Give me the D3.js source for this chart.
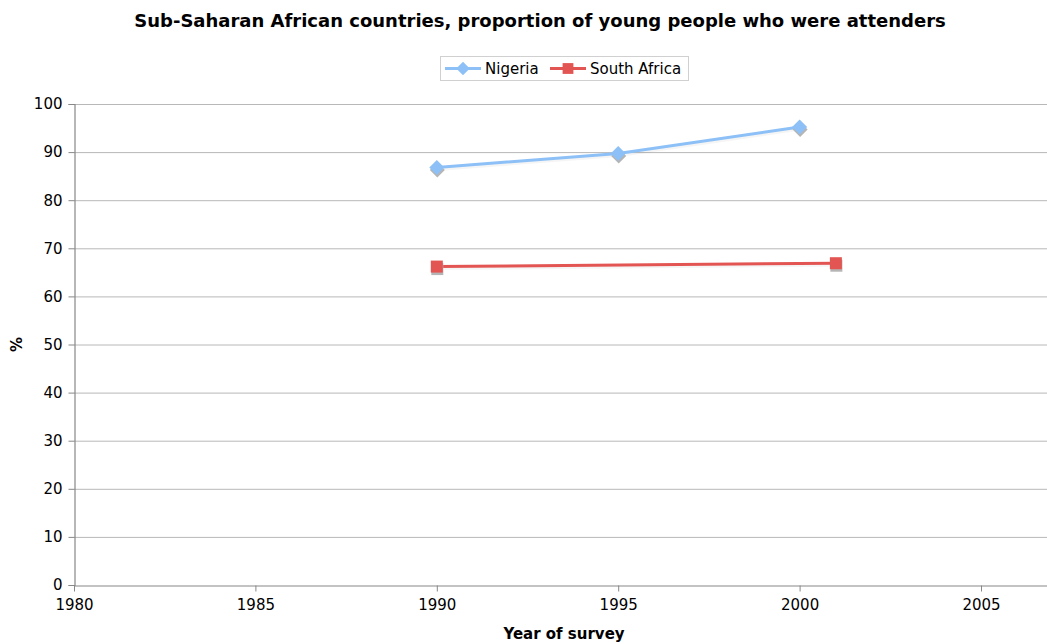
<!DOCTYPE html>
<html>
<head>
<meta charset="utf-8">
<script src="https://cdn.jsdelivr.net/npm/d3@7"></script>
<style>
  html, body { margin: 0; padding: 0; background: #fff; }
  svg { display: block; font-family: Verdana, "DejaVu Sans", sans-serif; }
</style>
</head>
<body>
<svg id="chart" width="1047" height="644"></svg>
<script>
// Survey years and percentage of attenders per country
const nigeriaYears = [1990, 1995, 2000];
const nigeriaValues = [86.8, 89.7, 95.2];
const southAfricaYears = [1990, 2001];
const southAfricaValues = [66.2, 66.9];
const xTicks = [1980, 1985, 1990, 1995, 2000, 2005];
const yTicks = [0, 10, 20, 30, 40, 50, 60, 70, 80, 90, 100];

const series = [
  { name: "Nigeria", color: "#8cc0f7", marker: "diamond",
    points: nigeriaYears.map((y, i) => ({ x: y, v: nigeriaValues[i] })) },
  { name: "South Africa", color: "#e25552", marker: "square",
    points: southAfricaYears.map((y, i) => ({ x: y, v: southAfricaValues[i] })) }
];

const svg = d3.select("#chart");
const plotLeft = 74, plotTop = 104, plotBottom = 585;
const pxPerYear = (981 - 74) / 25;

const x = d3.scaleLinear().domain([1980, 2010]).range([plotLeft, plotLeft + 30 * pxPerYear]);
const y = d3.scaleLinear().domain([0, 100]).range([plotBottom, plotTop]);
const plotRight = x(2010);

// Title
svg.append("text")
  .attr("x", 540).attr("y", 27)
  .attr("text-anchor", "middle")
  .attr("font-size", 18).attr("font-weight", "bold").attr("fill", "#000")
  .text("Sub-Saharan African countries, proportion of young people who were attenders");

// Horizontal gridlines
svg.append("g")
  .selectAll("line")
  .data(yTicks.filter(t => t > 0))
  .join("line")
  .attr("x1", plotLeft).attr("x2", plotRight)
  .attr("y1", d => y(d) + 0.5).attr("y2", d => y(d) + 0.5)
  .attr("stroke", "#b8b8b8").attr("stroke-width", 1);

// Y axis
const yAxis = svg.append("g")
  .attr("transform", `translate(${plotLeft + 0.5},0)`)
  .call(d3.axisLeft(y).tickValues(yTicks).tickSize(6).tickPadding(6));
yAxis.select(".domain").attr("stroke", "#888").attr("stroke-width", 1.2);
yAxis.selectAll(".tick line").attr("stroke", "#888");
yAxis.selectAll(".tick text").attr("font-size", 15).attr("fill", "#000")
  .attr("font-family", "Verdana, 'DejaVu Sans', sans-serif");

// X axis
const xAxis = svg.append("g")
  .attr("transform", `translate(0,${plotBottom + 0.5})`)
  .call(d3.axisBottom(x).tickValues(xTicks).tickFormat(d3.format("d")).tickSize(6).tickPadding(8).tickSizeOuter(0));
xAxis.select(".domain").attr("stroke", "#888").attr("stroke-width", 1.2);
xAxis.selectAll(".tick line").attr("stroke", "#888");
xAxis.selectAll(".tick text").attr("font-size", 15).attr("fill", "#000")
  .attr("font-family", "Verdana, 'DejaVu Sans', sans-serif");

// Axis titles
svg.append("text")
  .attr("x", 564).attr("y", 639)
  .attr("text-anchor", "middle")
  .attr("font-size", 15).attr("font-weight", "bold")
  .text("Year of survey");
svg.append("text")
  .attr("transform", `translate(22,${(plotTop + plotBottom) / 2}) rotate(-90)`)
  .attr("text-anchor", "middle")
  .attr("font-size", 15).attr("font-weight", "bold")
  .text("%");

// Series lines and markers
const line = d3.line().x(d => x(d.x)).y(d => y(d.v));
function drawMarker(g, type, cx, cy, fill, size) {
  if (type === "diamond") {
    const s = size * 0.75;
    g.append("path")
      .attr("d", `M${cx},${cy - s}L${cx + s},${cy}L${cx},${cy + s}L${cx - s},${cy}Z`)
      .attr("fill", fill);
  } else {
    const s = size * 0.6;
    g.append("rect")
      .attr("x", cx - s).attr("y", cy - s).attr("width", 2 * s).attr("height", 2 * s)
      .attr("fill", fill);
  }
}

series.forEach(s => {
  const g = svg.append("g");
  g.append("path").datum(s.points)
    .attr("d", line).attr("fill", "none")
    .attr("stroke", "#000").attr("stroke-opacity", 0.04).attr("stroke-width", 3)
    .attr("transform", "translate(1,2)");
  g.append("path").datum(s.points)
    .attr("d", line).attr("fill", "none")
    .attr("stroke", s.color).attr("stroke-width", 3);
  s.points.forEach(p => {
    drawMarker(g, s.marker, x(p.x) + 0.5, y(p.v) + 2.5, "#b5b5b5", 10);
    drawMarker(g, s.marker, x(p.x), y(p.v), s.color, 10);
  });
});

// Legend
const legend = svg.append("g");
legend.append("rect")
  .attr("x", 440.5).attr("y", 56.5).attr("width", 248).attr("height", 24)
  .attr("fill", "#fff").attr("stroke", "#d0d0d0");
const legendItems = [
  { s: series[0], x0: 445, tx: 485 },
  { s: series[1], x0: 550, tx: 590 }
];
legendItems.forEach(it => {
  legend.append("line")
    .attr("x1", it.x0).attr("x2", it.x0 + 36)
    .attr("y1", 68.5).attr("y2", 68.5)
    .attr("stroke", it.s.color).attr("stroke-width", 3);
  drawMarker(legend, it.s.marker, it.x0 + 18, 68.5, it.s.color, 9);
  legend.append("text")
    .attr("x", it.tx).attr("y", 74)
    .attr("font-size", 15).attr("fill", "#000")
    .text(it.s.name);
});
</script>
</body>
</html>
